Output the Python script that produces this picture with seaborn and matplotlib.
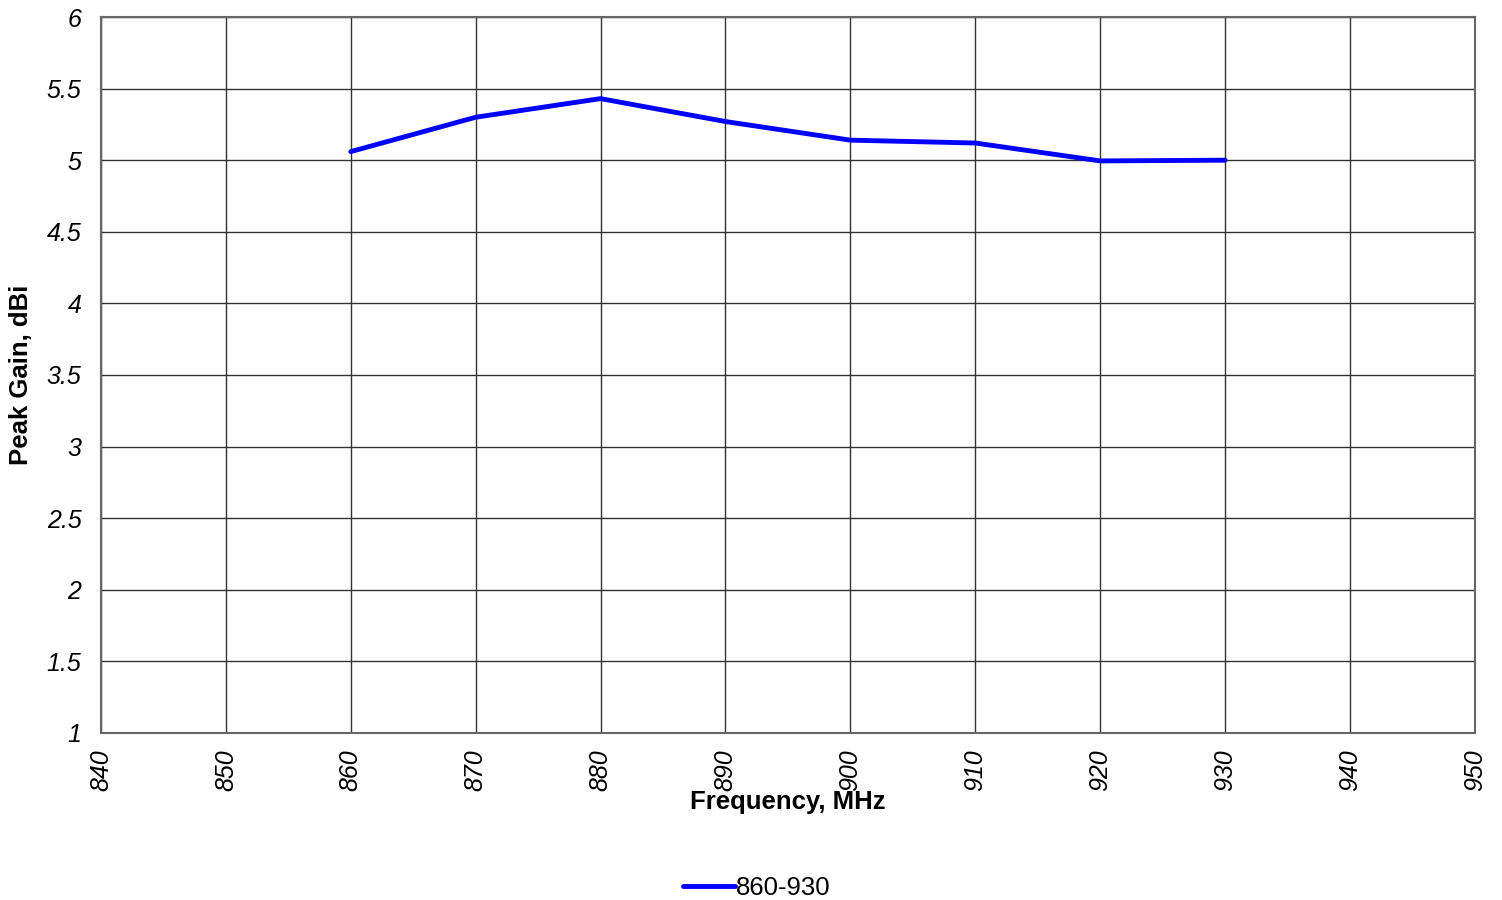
import matplotlib
matplotlib.use("Agg")
import matplotlib.pyplot as plt
import seaborn as sns
import pandas as pd

freq = [860, 870, 880, 890, 900, 910, 920, 930]
gain = [5.06, 5.30, 5.43, 5.27, 5.14, 5.12, 4.995, 5.00]
series_name = "860-930"
x_ticks = list(range(840, 951, 10))
y_ticks = [1, 1.5, 2, 2.5, 3, 3.5, 4, 4.5, 5, 5.5, 6]
y_tick_labels = ["1", "1.5", "2", "2.5", "3", "3.5", "4", "4.5", "5", "5.5", "6"]

sns.set_style("white")
plt.rcParams['font.family'] = ['Liberation Sans', 'DejaVu Sans']
plt.rcParams['text.color'] = 'black'
plt.rcParams['xtick.color'] = 'black'
plt.rcParams['ytick.color'] = 'black'
plt.rcParams['axes.labelcolor'] = 'black'

df = pd.DataFrame({"Frequency": freq, "Gain": gain, "Series": series_name})

fig = plt.figure(figsize=(15.02, 9), dpi=100)
ax = fig.add_axes([0.0672, 0.1856, 0.9148, 0.7955])
sns.lineplot(data=df, x="Frequency", y="Gain", hue="Series", palette=["#0000FF"],
             linewidth=3.5, ax=ax, legend=False)

ax.set_xlim(840, 950)
ax.set_ylim(1, 6)
ax.set_xticks(x_ticks)
ax.set_yticks(y_ticks)
ax.set_yticklabels(y_tick_labels, fontsize=18, style="italic")
ax.set_xticklabels([str(t) for t in x_ticks], fontsize=18, style="italic", rotation=90)
ax.tick_params(axis="y", length=0, pad=14)
ax.tick_params(axis="x", length=0, pad=12)
ax.grid(True, color="#333333", linewidth=1.0)
for s in ax.spines.values():
    s.set_color("#666666")
    s.set_linewidth(1.5)
ax.set_xlabel("Frequency, MHz", fontsize=18.5, fontweight="bold", labelpad=-1)
ax.set_ylabel("Peak Gain, dBi", fontsize=18.5, fontweight="bold", labelpad=10)

from matplotlib.lines import Line2D
handle = Line2D([], [], color="#0000FF", linewidth=3.5)
fig.legend([handle], [series_name], loc="center", bbox_to_anchor=(0.504, 0.013),
           frameon=False, fontsize=18.5, handlelength=2.0, handletextpad=0.05)

fig.savefig("out.png", dpi=100)
